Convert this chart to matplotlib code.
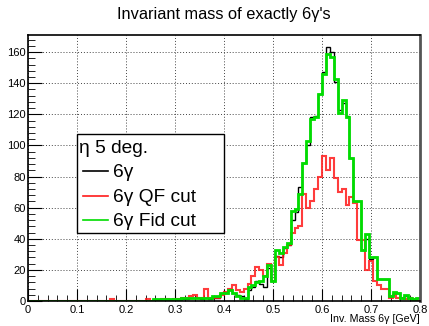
import numpy as np
import matplotlib
matplotlib.use("Agg")
import matplotlib.pyplot as plt
from matplotlib.patches import Rectangle
from matplotlib.lines import Line2D

plt.rcParams['font.family'] = ['Liberation Sans', 'DejaVu Sans']

# histogram: 100 bins from 0 to 0.8 GeV
edges = np.linspace(0, 0.8, 101)

# 6gamma (black)
counts_all = [0] * 32 + [
    1, 0, 1, 1, 1, 1, 1, 1,            # 32-39
    1, 2, 2, 2, 1, 2, 1, 2, 2, 5,      # 40-49
    5, 8, 5, 4, 3, 1, 7, 9, 13, 11,    # 50-59
    9, 21, 13, 29, 28, 34, 36, 52, 57, 73,   # 60-69
    89, 100, 118, 119, 133, 147, 163, 160, 141, 123,  # 70-79
    127, 119, 92, 64, 64, 33, 40, 27, 28, 14,  # 80-89
    14, 14, 3, 5, 5, 2, 3, 2, 1, 2]    # 90-99

# 6gamma QF cut (red)
counts_qf = [0] * 21 + [
    1, 0, 0, 0, 0, 0, 0, 0, 0,         # 21-29
    1, 0, 0, 0, 1, 1, 0, 1, 1, 2,      # 30-39
    2, 3, 4, 2, 2, 8, 2, 2, 2, 4,      # 40-49
    6, 8, 10, 7, 6, 8, 11, 16, 22, 20, # 50-59
    16, 24, 13, 28, 23, 31, 36, 44, 47, 48,  # 60-69
    69, 60, 64, 72, 80, 93, 84, 92, 79, 70,  # 70-79
    72, 62, 67, 63, 39, 39, 20, 26, 13, 10,  # 80-89
    8, 8, 2, 4, 2, 2, 1, 2, 1, 0]      # 90-99

# 6gamma Fid cut (green)
counts_fid = [0] * 32 + [
    1, 1, 1, 1, 1, 1, 1, 2,            # 32-39
    2, 2, 2, 2, 2, 2, 2, 3, 3, 5,      # 40-49
    5, 7, 5, 3, 2, 2, 9, 10, 12, 13,   # 50-59
    16, 23, 13, 33, 31, 35, 37, 58, 59, 69,  # 60-69
    89, 103, 117, 118, 133, 146, 159, 157, 143, 121,  # 70-79
    129, 118, 92, 64, 64, 33, 43, 28, 28, 14,  # 80-89
    14, 14, 3, 6, 5, 2, 4, 2, 1, 2]    # 90-99

legend_header = 'η 5 deg.'
legend_labels = ['6γ', '6γ QF cut', '6γ Fid cut']
colors = ['black', '#ff1a1a', '#00dd00']

W, H = 429, 326
fig = plt.figure(figsize=(W / 100, H / 100), dpi=100)
ax = fig.add_axes([28 / W, 25 / H, 392 / W, 266 / H])

ax.stairs(counts_all, edges, color=colors[0], lw=1.0)
ax.stairs(counts_qf, edges, color=colors[1], lw=1.5, alpha=0.85)
ax.stairs(counts_fid, edges, color=colors[2], lw=2.0)

ax.set_xlim(0, 0.8)
ax.set_ylim(0, 171)
ax.set_xticks(np.arange(0, 0.81, 0.1))
ax.set_xticklabels(['0', '0.1', '0.2', '0.3', '0.4', '0.5', '0.6', '0.7', '0.8'])
ax.set_xticks(np.arange(0, 0.8, 0.02), minor=True)
ax.set_yticks(np.arange(0, 161, 20))
ax.set_yticks(np.arange(0, 171, 4), minor=True)
ax.tick_params(which='both', direction='in', top=False, right=False, labelsize=8)
ax.tick_params(axis='y', which='major', length=10, pad=1.5)
ax.tick_params(axis='y', which='minor', length=5)
ax.tick_params(axis='x', which='major', length=9, pad=3)
ax.tick_params(axis='x', which='minor', length=4)
ax.grid(True, which='major', color='#444444', linestyle=(0, (1, 2)), lw=0.7)
ax.set_axisbelow(True)

for side in ['left', 'bottom', 'top']:
    ax.spines[side].set_linewidth(1.2)
ax.spines['right'].set_linewidth(2.0)
ax.spines['right'].set_color('#555555')

fig.text(224 / W, 1 - 18.5 / H, "Invariant mass of exactly 6γ's", fontsize=11.8,
         ha='center', va='baseline')
fig.text(420 / W, 1 - 322.5 / H, 'Inv. Mass 6γ [GeV]', fontsize=7.7,
         ha='right', va='baseline')

# ROOT-style legend box
fig.patches.append(Rectangle((77 / W, 1 - 233 / H), 147 / W, 99 / H,
                             transform=fig.transFigure, facecolor='white',
                             edgecolor='black', lw=1.0, zorder=5))
fig.text(79 / W, 1 - 153 / H, legend_header, fontsize=13.8, ha='left',
         va='baseline', zorder=6)
for i, (lab, col) in enumerate(zip(legend_labels, colors)):
    base = 177 + 24.7 * i
    fig.lines.append(Line2D([83 / W, 108 / W], [1 - (base - 6) / H] * 2,
                            transform=fig.transFigure, color=col, lw=1.2,
                            zorder=6))
    fig.text(113 / W, 1 - base / H, lab, fontsize=13.8, ha='left',
             va='baseline', zorder=6)

fig.savefig('out.png', dpi=100)
